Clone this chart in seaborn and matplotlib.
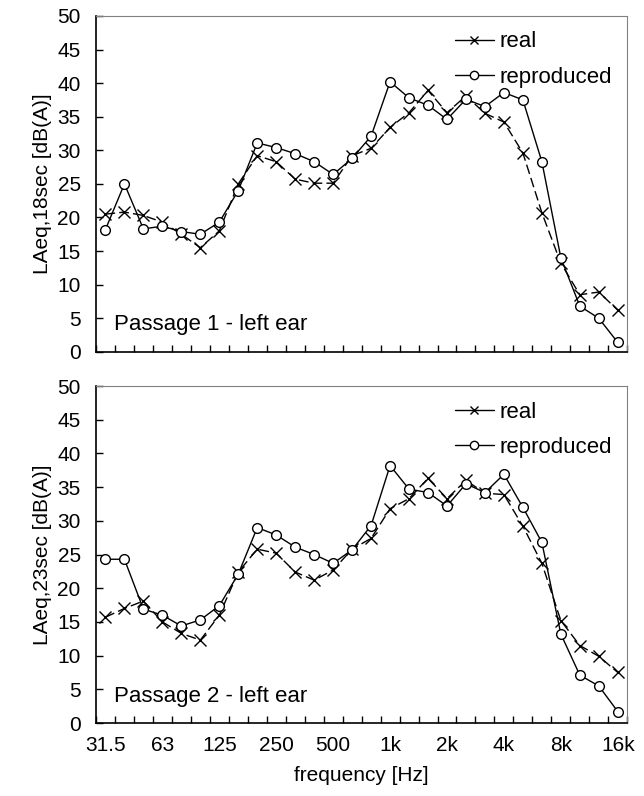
import numpy as np
import pandas as pd
import matplotlib
matplotlib.use("Agg")
import matplotlib.pyplot as plt
import seaborn as sns

bands = ["31.5", "40", "50", "63", "80", "100", "125", "160", "200", "250", "315", "400",
         "500", "630", "800", "1k", "1.25k", "1.6k", "2k", "2.5k", "3.15k", "4k", "5k",
         "6.3k", "8k", "10k", "12.5k", "16k"]
tick_labels = ["31.5", "63", "125", "250", "500", "1k", "2k", "4k", "8k", "16k"]

p1_real = [20.5, 20.8, 20.3, 19.3, 17.5, 15.5, 18.0, 25.0, 29.2, 28.3, 25.7, 25.1, 25.1,
           29.2, 30.3, 33.4, 35.6, 38.9, 35.6, 38.1, 35.5, 34.2, 29.6, 20.7, 13.2, 8.5, 8.9, 6.2]
p1_repr = [18.2, 25.0, 18.3, 18.7, 17.9, 17.5, 19.3, 24.0, 31.1, 30.4, 29.5, 28.3, 26.4,
           28.8, 32.1, 40.2, 37.8, 36.7, 34.6, 37.6, 36.5, 38.6, 37.5, 28.3, 14.0, 6.8, 5.0, 1.4]
p2_real = [15.7, 17.0, 18.1, 15.0, 13.3, 12.3, 16.0, 22.4, 25.8, 25.2, 22.4, 21.2, 22.7,
           25.8, 27.4, 31.8, 33.3, 36.3, 33.3, 36.0, 34.1, 33.9, 29.2, 23.7, 15.2, 11.5, 9.9, 7.5]
p2_repr = [24.3, 24.3, 16.9, 16.0, 14.4, 15.3, 17.4, 22.1, 29.0, 27.9, 26.1, 25.0, 23.7,
           25.7, 29.3, 38.2, 34.7, 34.2, 32.2, 35.5, 34.2, 36.9, 32.0, 26.8, 13.2, 7.1, 5.5, 1.7]

panels = [
    ("LAeq,18sec [dB(A)]", "Passage 1 - left ear", p1_real, p1_repr),
    ("LAeq,23sec [dB(A)]", "Passage 2 - left ear", p2_real, p2_repr),
]

sns.set_theme(style="white")
plt.rcParams['font.family'] = ['Liberation Sans', 'DejaVu Sans']
plt.rcParams['text.color'] = 'black'
plt.rcParams['axes.labelcolor'] = 'black'
plt.rcParams['xtick.color'] = 'black'
plt.rcParams['ytick.color'] = 'black'

fig = plt.figure(figsize=(6.44, 7.96), dpi=100)
axes = [fig.add_axes([0.149, 0.558, 0.825, 0.422]),
        fig.add_axes([0.149, 0.0917, 0.825, 0.4233])]

idx = np.arange(len(bands))
for i, (ylab, note, real, repr_) in enumerate(panels):
    ax = axes[i]
    sns.lineplot(x=idx, y=real, ax=ax, label="real", color="black", linewidth=1.0,
                 linestyle=(0, (7, 3)), marker="x", markersize=8,
                 markeredgecolor="black", markeredgewidth=1.0)
    sns.lineplot(x=idx, y=repr_, ax=ax, label="reproduced", color="black", linewidth=1.0,
                 marker="o", markersize=7, markerfacecolor="white",
                 markeredgecolor="black", markeredgewidth=1.0)
    ax.set_xlim(-0.5, len(bands) - 0.5)
    ax.set_ylim(0, 50)
    ax.set_yticks(np.arange(0, 51, 5))
    ax.set_xticks(np.arange(-0.5, len(bands), 1.0), minor=True)
    ax.set_xticks([bands.index(t) for t in tick_labels])
    ax.tick_params(axis="x", which="major", length=0, labelsize=15, pad=9)
    ax.tick_params(axis="x", which="minor", direction="in", length=5, width=1, color="black")
    ax.tick_params(axis="y", direction="in", length=5, width=1, color="black", labelsize=15, pad=11)
    ax.tick_params(left=True, bottom=True)
    ax.xaxis.set_tick_params(which="minor", bottom=True)
    if i == 0:
        ax.set_xticklabels([])
        ax.set_xlabel("")
    else:
        ax.set_xticklabels(tick_labels)
        ax.set_xlabel("frequency [Hz]", fontsize=15, labelpad=8)
    ax.set_ylabel(ylab, fontsize=15, labelpad=4)
    for s in ["left", "bottom"]:
        ax.spines[s].set_color("black")
        ax.spines[s].set_linewidth(1.2)
    for s in ["top", "right"]:
        ax.spines[s].set_color("#808080")
        ax.spines[s].set_linewidth(0.8)
    ax.text(0.034, 0.08, note, transform=ax.transAxes, fontsize=16, ha="left", va="center")
    leg = ax.legend(loc="upper right", frameon=False, fontsize=16, handlelength=1.75,
                    handletextpad=0.25, borderaxespad=0.15, labelspacing=0.65,
                    borderpad=0.55)
    for h in leg.legend_handles:
        h.set_linestyle("-")
        h.set_markersize(6)

fig.savefig("out.png", dpi=100)
